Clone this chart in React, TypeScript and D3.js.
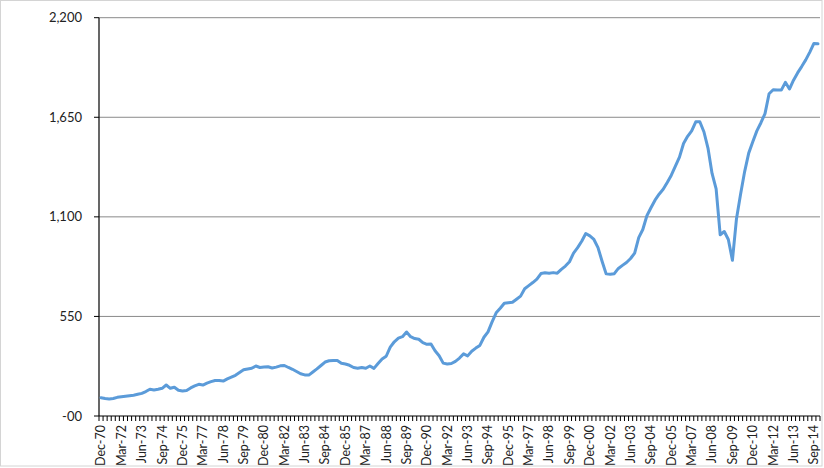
import React from "react";
import * as d3 from "d3";

const startYear = 1970;
const quarterMonths = ["Mar", "Jun", "Sep", "Dec"];

const values: number[] = [
  101, 97, 94, 97, 103, 106, 109, 112, 115, 120,
  125, 135, 148, 144, 148, 153, 171, 153, 159, 142,
  138, 141, 155, 166, 175, 171, 182, 190, 196, 196,
  193, 205, 215, 225, 240, 255, 260, 264, 276, 268,
  270, 272, 265, 270, 277, 279, 268, 258, 246, 233,
  227, 226, 243, 260, 279, 298, 305, 306, 306, 291,
  287, 280, 268, 264, 268, 264, 276, 263, 290, 315,
  330, 380, 410, 430, 438, 464, 438, 428, 424, 405,
  396, 398, 360, 333, 292, 287, 290, 302, 320, 343,
  332, 358, 375, 390, 435, 465, 520, 570, 595, 623,
  626, 628, 645, 662, 703, 720, 737, 756, 787, 791,
  789, 792, 789, 810, 828, 852, 900, 930, 965, 1008,
  995, 975, 930, 855, 785, 783, 786, 815, 832, 848,
  870, 900, 985, 1030, 1106, 1150, 1192, 1225, 1252, 1290,
  1330, 1380, 1430, 1505, 1545, 1575, 1625, 1625, 1570, 1480,
  1340, 1255, 1001, 1019, 975, 860, 1090, 1225, 1350, 1452,
  1515, 1575, 1620, 1670, 1780, 1802, 1800, 1800, 1843, 1806,
  1855, 1895, 1930, 1967, 2010, 2058, 2056,
];

const yTicks = [0, 550, 1100, 1650, 2200];
const yTickLabels = ["-00", "550", "1,100", "1,650", "2,200"];

// quarterly categories, starting Dec-70
const categories: string[] = values.map((_, i) => {
  const q = 3 + i; // index 3 = Dec of startYear
  const yr = startYear + Math.floor(q / 4);
  return `${quarterMonths[q % 4]}-${String(yr % 100).padStart(2, "0")}`;
});
const labelEvery = 5;

export default function App() {
  const W = 824;
  const H = 468;
  const left = 99;
  const right = 820;
  const top = 17.7;
  const bottom = 416;

  const x = d3
    .scaleBand<number>()
    .domain(values.map((_, i) => i))
    .range([left, right])
    .padding(0);
  const step = x.step();
  const cx = (i: number) => (x(i) as number) + step / 2;
  const y = d3.scaleLinear().domain([0, 2200]).range([bottom, top]);

  const line = d3
    .line<number>()
    .x((_, i) => cx(i))
    .y((d) => y(d));

  const font = "Lato, 'Open Sans', sans-serif";

  return (
    <svg
      width={W}
      height={H}
      style={{ position: "fixed", left: 0, top: 0, background: "#fff" }}
    >
      <rect x={0.5} y={0.5} width={W - 2.5} height={H - 2.5} fill="#fff" stroke="#d4d4d4" />
      {yTicks.map((t, k) => (
        <g key={t}>
          {t > 0 && (
            <line x1={left} x2={right} y1={y(t)} y2={y(t)} stroke="#8a8a8a" strokeWidth={1} />
          )}
          <line x1={left - 5} x2={left} y1={y(t)} y2={y(t)} stroke="#000" strokeWidth={1} />
          <text
            x={82}
            y={y(t)}
            dy="0.35em"
            textAnchor="end"
            fontFamily={font}
            fontSize={13}
            fill="#222"
          >
            {yTickLabels[k]}
          </text>
        </g>
      ))}
      {/* x axis ticks at category boundaries */}
      {d3.range(values.length + 1).map((i) => {
        const xx = left + i * step;
        return <line key={i} x1={xx} x2={xx} y1={bottom} y2={bottom + 5} stroke="#000" strokeWidth={1} />;
      })}
      <line x1={left} x2={right} y1={bottom} y2={bottom} stroke="#000" strokeWidth={1.2} />
      <line x1={left} x2={left} y1={top} y2={bottom} stroke="#000" strokeWidth={1.2} />
      {categories.map((c, i) =>
        i % labelEvery === 0 ? (
          <text
            key={c + i}
            transform={`translate(${cx(i)},${425}) rotate(-90)`}
            dy="0.35em"
            textAnchor="end"
            fontFamily={font}
            fontSize={12.5}
            fill="#222"
          >
            {c}
          </text>
        ) : null
      )}
      <path
        d={line(values) || ""}
        fill="none"
        stroke="#5b9bd9"
        strokeWidth={3}
        strokeLinejoin="round"
        strokeLinecap="round"
      />
    </svg>
  );
}
